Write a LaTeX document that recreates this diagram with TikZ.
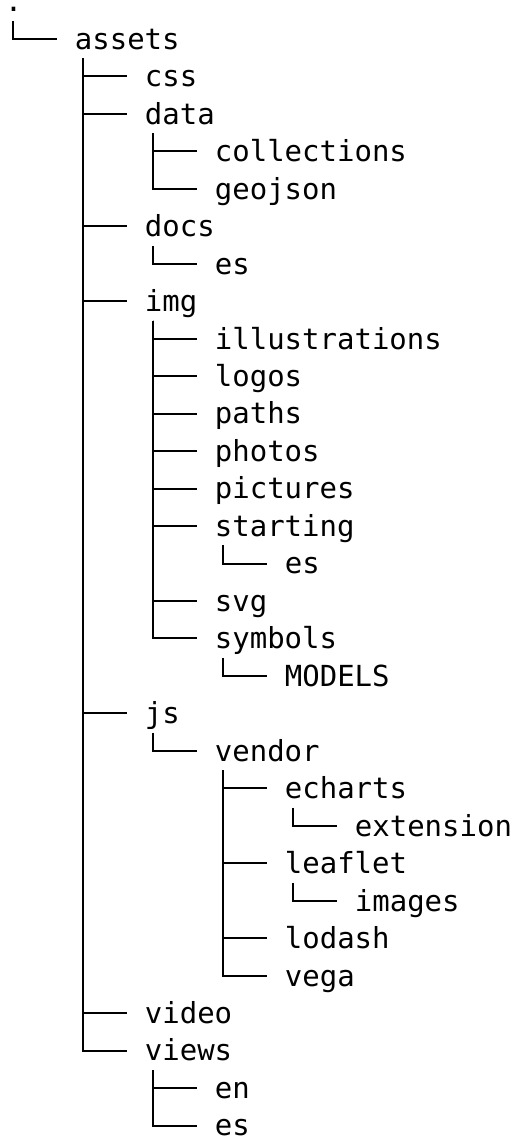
\documentclass[tikz,border=0pt]{standalone}
\usepackage{fontspec}
\usepackage{tikz}
\usetikzlibrary{calc}
\newfontfamily\treefont{DejaVu Sans Mono}

\begin{document}
\begin{tikzpicture}[x=35pt, y=-18.735pt,
                dir/.style={font=\treefont\fontsize{14.5}{17}\selectfont, anchor=base west, inner sep=0pt},
                branch/.style={line width=1pt}]
                \useasboundingbox (-2.25pt,5.9pt) rectangle (256.25pt,-563.6pt);

                % Root and first level
                \node[dir] (root) at (0,0) {.};
                \node[dir] (assets) at (1,1) {assets};

                % Folders inside assets
                \node[dir] (css) at (2,2) {css};
                \node[dir] (data) at (2,3) {data};
                \node[dir] (collections) at (3,4) {collections};
                \node[dir] (geojson) at (3,5) {geojson};
                \node[dir] (docs) at (2,6) {docs};
                \node[dir] (docses) at (3,7) {es};

                % Images
                \node[dir] (img) at (2,8) {img};
                \node[dir] (illustrations) at (3,9) {illustrations};
                \node[dir] (logos) at (3,10) {logos};
                \node[dir] (paths) at (3,11) {paths};
                \node[dir] (photos) at (3,12) {photos};
                \node[dir] (pictures) at (3,13) {pictures};
                \node[dir] (starting) at (3,14) {starting};
                \node[dir] (startinges) at (4,15) {es};
                \node[dir] (svg) at (3,16) {svg};
                \node[dir] (symbols) at (3,17) {symbols};
                \node[dir] (models) at (4,18) {MODELS};

                % Scripts and vendor libraries
                \node[dir] (js) at (2,19) {js};
                \node[dir] (vendor) at (3,20) {vendor};
                \node[dir] (echarts) at (4,21) {echarts};
                \node[dir] (extension) at (5,22) {extension};
                \node[dir] (leaflet) at (4,23) {leaflet};
                \node[dir] (images) at (5,24) {images};
                \node[dir] (lodash) at (4,25) {lodash};
                \node[dir] (vega) at (4,26) {vega};

                % Last folders
                \node[dir] (video) at (2,27) {video};
                \node[dir] (views) at (2,28) {views};
                \node[dir] (en) at (3,29) {en};
                \node[dir] (viewses) at (3,30) {es};

                % Tree branches - parent/child
                \foreach \p/\c in {root/assets, assets/css, assets/data, data/collections, data/geojson,
                                   assets/docs, docs/docses, assets/img, img/illustrations, img/logos,
                                   img/paths, img/photos, img/pictures, img/starting, starting/startinges,
                                   img/svg, img/symbols, symbols/models, assets/js, js/vendor,
                                   vendor/echarts, echarts/extension, vendor/leaflet, leaflet/images,
                                   vendor/lodash, vendor/vega, assets/video, assets/views,
                                   views/en, views/viewses}
                    \draw[branch] ($(\p.base west)+(4.35pt,-4.5pt)$) |- ($(\c.base west)+(-9pt,5.15pt)$);
            \end{tikzpicture}
\end{document}
